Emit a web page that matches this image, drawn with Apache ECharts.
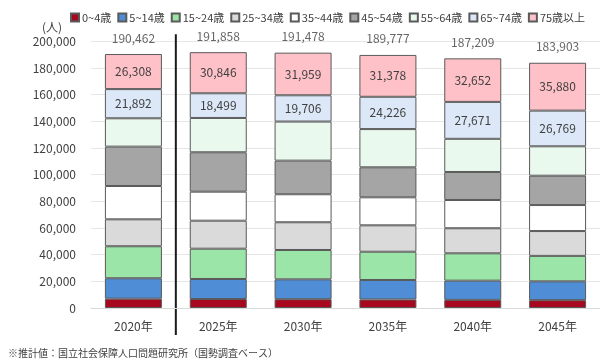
<!DOCTYPE html>
<html>
<head>
<meta charset="utf-8">
<script src="https://cdn.jsdelivr.net/npm/echarts@6/dist/echarts.min.js"></script>
<style>
html,body{margin:0;padding:0;background:#fff;}
#c{width:600px;height:362px;}
</style>
</head>
<body>
<div id="c"></div>
<script>
const categories = ['2020年','2025年','2030年','2035年','2040年','2045年'];
const seriesNames = ['0~4歳','5~14歳','15~24歳','25~34歳','35~44歳','45~54歳','55~64歳','65~74歳','75歳以上'];
const age0_4   = [7000, 6750, 6600, 6400, 6100, 5900];
const age5_14  = [15300, 15000, 14900, 14600, 14400, 14100];
const age15_24 = [24000, 22725, 22000, 21200, 20500, 19100];
const age25_34 = [20200, 21000, 20800, 19800, 18800, 18600];
const age35_44 = [25000, 21750, 21000, 21000, 21200, 19500];
const age45_54 = [29500, 29550, 25200, 22500, 21000, 22000];
const age55_64 = [21262, 25738, 29313, 28673, 24886, 22054];
const age65_74 = [21892, 18499, 19706, 24226, 27671, 26769];
const age75up  = [26308, 30846, 31959, 31378, 32652, 35880];
const totals   = [190462, 191858, 191478, 189777, 187209, 183903];
const yTicks = {min: 0, max: 200000, interval: 20000};

const colors = ['#A8081F','#4F8ED6','#9BE5A8','#DADADA','#FFFFFF','#A5A5A5','#EAF9EE','#DCE8F7','#FFC1C8'];
const dataList = [age0_4, age5_14, age15_24, age25_34, age35_44, age45_54, age55_64, age65_74, age75up];
const labelled = [false,false,false,false,false,false,false,true,true];

const font = '"Noto Sans CJK JP", "Noto Sans", sans-serif';
const fmt = v => v.toLocaleString('en-US');

const series = dataList.map((d, i) => ({
  name: seriesNames[i],
  type: 'bar',
  stack: 'pop',
  barWidth: 57,
  data: d,
  itemStyle: {color: colors[i], borderColor: '#5a5a5a', borderWidth: 1},
  label: {
    show: labelled[i],
    position: 'inside',
    color: '#404040',
    fontSize: 12,
    fontFamily: font,
    formatter: p => fmt(p.value)
  },
  emphasis: {disabled: true}
}));

series.push({
  name: 'total',
  type: 'scatter',
  data: totals,
  symbolSize: 0,
  silent: true,
  label: {
    show: true,
    position: 'top',
    distance: 10,
    color: '#404040',
    fontSize: 12,
    fontFamily: font,
    formatter: p => fmt(p.value)
  }
});

const chart = echarts.init(document.getElementById('c'), null, {renderer: 'canvas'});
chart.setOption({
  animation: false,
  backgroundColor: '#fff',
  textStyle: {fontFamily: font},
  title: [
    {text: '(人)', left: 37, top: 16, textStyle: {fontSize: 12, fontWeight: 'normal', color: '#404040', fontFamily: font}},
    {text: '※推計値：国立社会保障人口問題研究所（国勢調査ベース）', left: 3, top: 343, textStyle: {fontSize: 10, fontWeight: 'normal', color: '#404040', fontFamily: font}}
  ],
  legend: {
    data: seriesNames,
    left: 65,
    top: 7,
    itemWidth: 8,
    itemHeight: 8,
    itemGap: 6,
    icon: 'rect',
    textStyle: {fontSize: 11, color: '#404040', fontFamily: font, padding: [0,0,0,-2]}
  },
  grid: {left: 91, right: 0, top: 41.3, bottom: 54},
  xAxis: {
    type: 'category',
    data: categories,
    axisLine: {show: true, lineStyle: {color: '#d9d9d9'}},
    axisTick: {show: false},
    axisLabel: {color: '#404040', fontSize: 12, margin: 12, fontFamily: font}
  },
  yAxis: {
    type: 'value',
    min: yTicks.min,
    max: yTicks.max,
    interval: yTicks.interval,
    axisLine: {show: false},
    axisTick: {show: false},
    splitLine: {lineStyle: {color: '#e6e6e6'}},
    axisLabel: {color: '#404040', fontSize: 12, margin: 15, fontFamily: font, formatter: v => fmt(v)}
  },
  series: series
});

// divider line between 2020 and 2025
const p0 = chart.convertToPixel({xAxisIndex: 0}, 0);
const p1 = chart.convertToPixel({xAxisIndex: 0}, 1);
const xDiv = (p0 + p1) / 2;
const yTop = chart.convertToPixel({yAxisIndex: 0}, yTicks.max);
const yBot = chart.convertToPixel({yAxisIndex: 0}, yTicks.min);
chart.setOption({
  graphic: [{
    type: 'line',
    shape: {x1: xDiv, y1: yTop - 7, x2: xDiv, y2: yBot + 27},
    style: {stroke: '#1a1a1a', lineWidth: 2},
    silent: true
  }]
});
</script>
</body>
</html>
